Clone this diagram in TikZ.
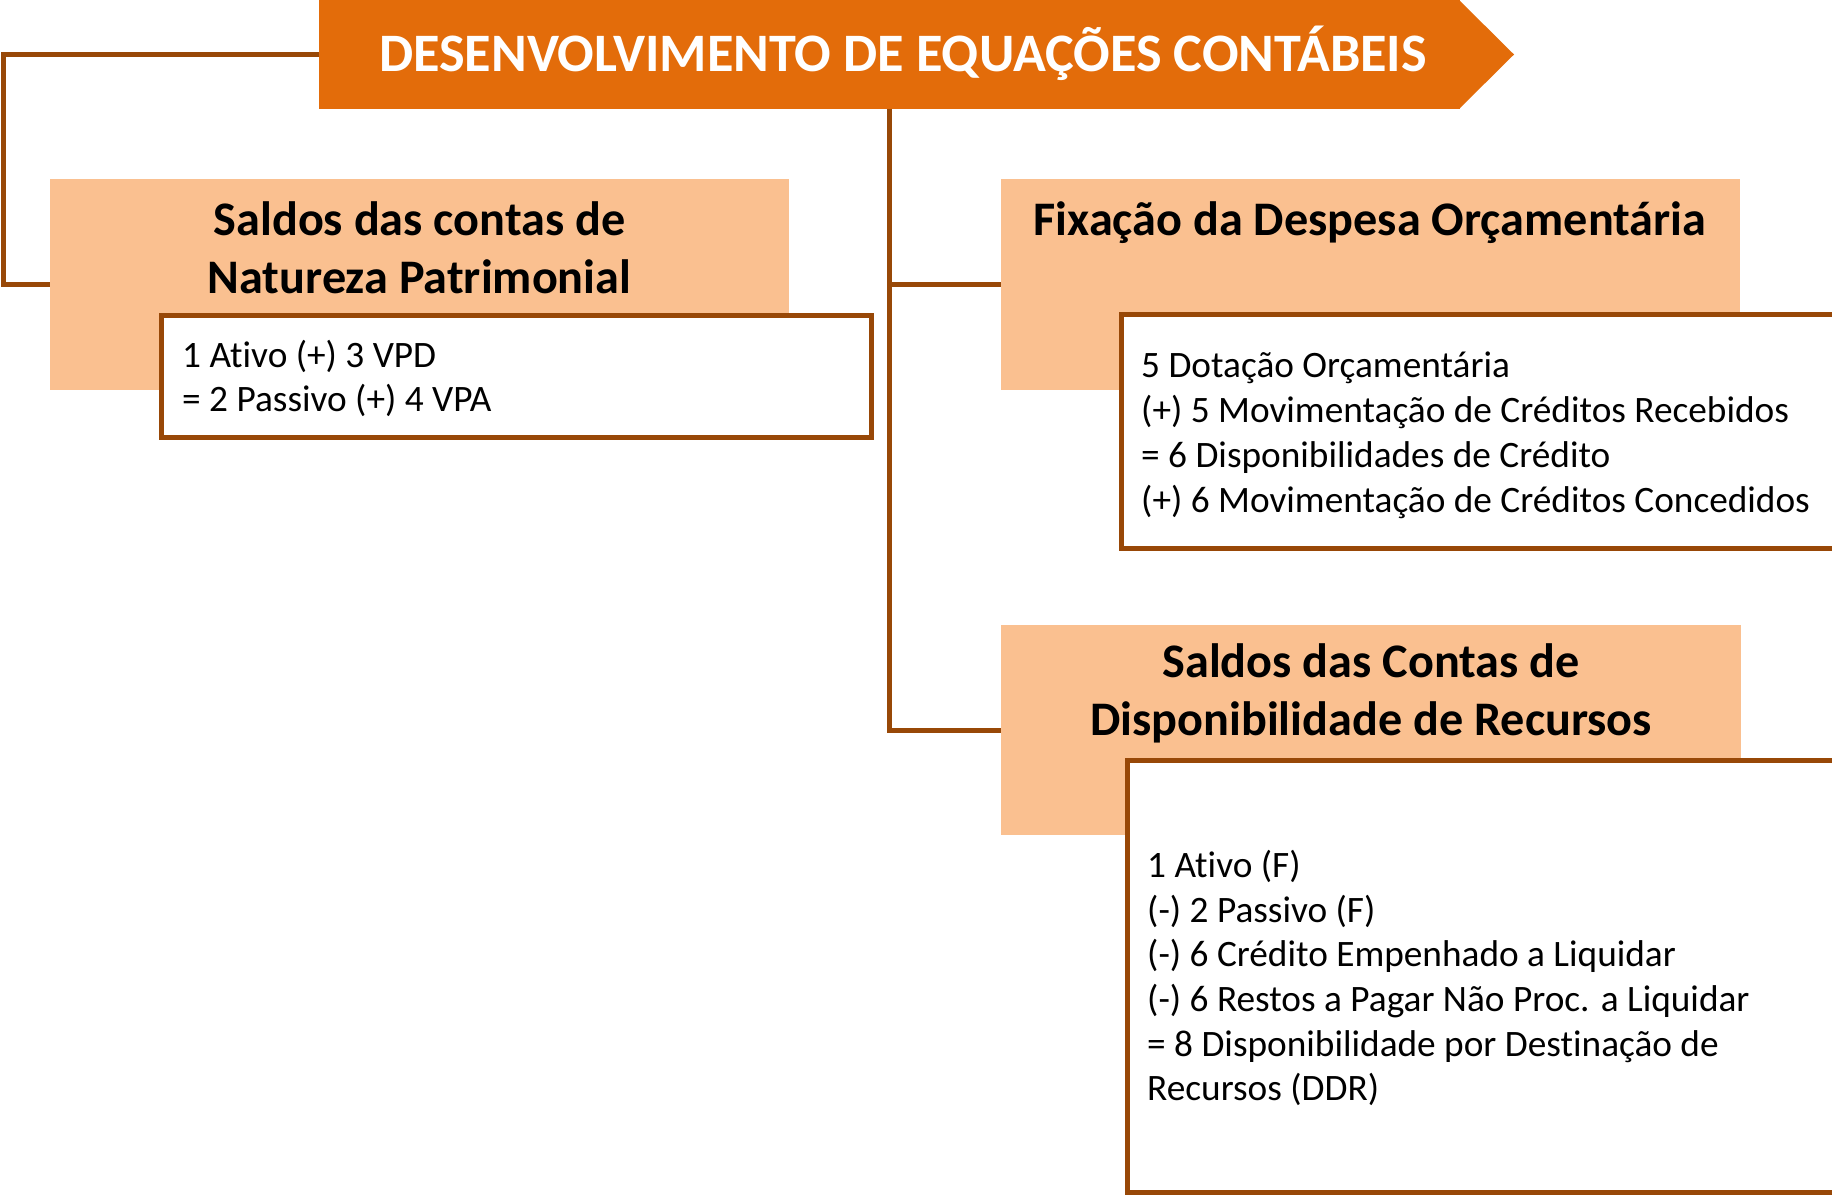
\documentclass[tikz,border=0pt]{standalone}
\usepackage{fontspec}
\setmainfont{Carlito}[Ligatures={NoCommon}]
\definecolor{titleorange}{HTML}{E36C0A}
\definecolor{peach}{HTML}{FAC090}
\definecolor{brownline}{HTML}{984807}
\tikzset{
  conn/.style={draw=brownline, line width=5pt, line join=miter},
  peachbox/.style={rectangle, fill=peach, anchor=north west, inner sep=0pt, outer sep=0pt},
  whitebox/.style={rectangle, draw=brownline, fill=white, line width=5pt, anchor=north west, inner sep=0pt, outer sep=0pt},
  titletext/.style={anchor=base, inner sep=0pt, text=white, font=\fontsize{54.2}{64}\selectfont\bfseries},
  headtext/.style={anchor=base, inner sep=0pt, font=\fontsize{48.2}{58}\selectfont\bfseries},
  bodytext/.style={anchor=base west, inner sep=0pt, font=\fontsize{37.3}{44.7}\selectfont},
}
\begin{document}
\begin{tikzpicture}[x=1pt,y=-1pt]
\useasboundingbox (0,0) rectangle (1832,1196);
\clip (0,0) rectangle (1832,1196);
\fill[white] (0,0) rectangle (1832,1196);

% title banner
\node[rectangle, fill=titleorange, anchor=north west, inner sep=0pt, outer sep=0pt,
      minimum width=1141pt, minimum height=109pt] (title) at (319,0) {};
\fill[titleorange] ([xshift=-1pt]title.north east) -- ++(55,54.5) -- ([xshift=-1pt]title.south east) -- cycle;

% peach boxes
\node[peachbox, minimum width=739pt, minimum height=211pt] (p1) at (50,179) {};
\node[peachbox, minimum width=739pt, minimum height=211pt] (p2) at (1001,179) {};
\node[peachbox, minimum width=740pt, minimum height=210pt] (p3) at (1001,625) {};

% connectors
\draw[conn] (title.west) -- (3,54.5) |- (p1.west);
\draw[conn] (title.south) |- (p3.west);
\draw[conn] (title.south |- p2.west) -- (p2.west);

% white boxes
\node[whitebox, minimum width=710pt, minimum height=122pt] (w1) at (161,315) {};
\node[whitebox, minimum width=730pt, minimum height=234pt] (w2) at (1121,314) {};
\node[whitebox, minimum width=730pt, minimum height=432pt] (w3) at (1127,760) {};

% texts
\node[titletext] (ttl) at (903,72) {DESENVOLVIMENTO DE EQUAÇÕES CONTÁBEIS};

\node[headtext] (h1a) at (419.5,235) {Saldos das contas de};
\node[headtext] (h1b) at (419.5,293) {Natureza Patrimonial};
\node[headtext] (h2)  at (1370,235) {Fixação da Despesa Orçamentária};
\node[headtext] (h3a) at (1371,677) {Saldos das Contas de};
\node[headtext] (h3b) at (1371,735) {Disponibilidade de Recursos};

\node[bodytext] (t1a) at (182,367) {1 Ativo (+) 3 VPD};
\node[bodytext] (t1b) at (182,411) {= 2 Passivo (+) 4 VPA};

\node[bodytext] (t2a) at (1141,377) {5 Dotação Orçamentária};
\node[bodytext] (t2b) at (1141,422) {(+) 5 Movimentação de Créditos Recebidos};
\node[bodytext] (t2c) at (1141,467) {= 6 Disponibilidades de Crédito};
\node[bodytext] (t2d) at (1141,512) {(+) 6 Movimentação de Créditos Concedidos};

\node[bodytext] (t3a) at (1147,877) {1 Ativo (F)};
\node[bodytext] (t3b) at (1147,922) {(-) 2 Passivo (F)};
\node[bodytext] (t3c) at (1147,966) {(-) 6 Crédito Empenhado a Liquidar};
\node[bodytext] (t3d) at (1147,1011) {(-) 6 Restos a Pagar Não Proc. a Liquidar};
\node[bodytext] (t3e) at (1147,1056) {= 8 Disponibilidade por Destinação de};
\node[bodytext] (t3f) at (1147,1100) {Recursos (DDR)};
\end{tikzpicture}
\end{document}
